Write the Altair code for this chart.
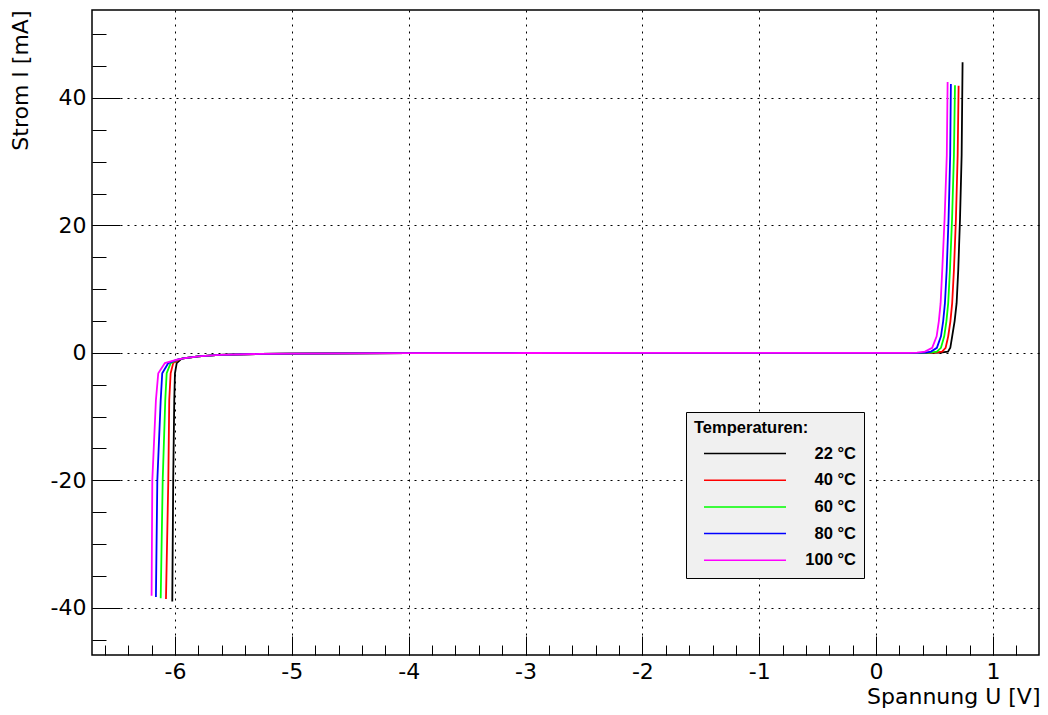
import altair as alt
import pandas as pd

temps = ["22 °C", "40 °C", "60 °C", "80 °C", "100 °C"]
colors = ["#000000", "#ff0000", "#00ff00", "#0000ff", "#ff00ff"]

# reverse (Zener) branch per temperature
rev_u_22 = [-6.023, -6.015, -6.006, -6.000, -5.985, -5.950]
rev_i_22 = [-39.0, -20.0, -7.4, -3.2, -1.6, -1.0]
rev_u_40 = [-6.077, -6.057, -6.049, -6.037, -6.015, -5.960]
rev_i_40 = [-38.6, -20.0, -7.4, -3.2, -1.6, -1.0]
rev_u_60 = [-6.122, -6.105, -6.083, -6.071, -6.037, -5.970]
rev_i_60 = [-38.5, -20.0, -7.4, -3.2, -1.6, -1.0]
rev_u_80 = [-6.163, -6.151, -6.122, -6.109, -6.057, -5.980]
rev_i_80 = [-38.3, -20.0, -7.4, -3.2, -1.6, -1.05]
rev_u_100 = [-6.200, -6.194, -6.163, -6.143, -6.086, -5.990]
rev_i_100 = [-38.1, -20.0, -7.4, -3.2, -1.6, -1.1]

# common blocking region
flat_u = [-5.93, -5.80, -5.62, -5.27, -5.00, -4.50, -4.00, -3.00, -2.00, -1.00, 0.00]
flat_i = [-0.85, -0.55, -0.32, -0.16, -0.10, -0.06, -0.04, -0.02, -0.01, 0.0, 0.0]

# forward branch per temperature
fwd_u_22 = [0.40, 0.55, 0.615, 0.635, 0.651, 0.672, 0.689, 0.703, 0.718, 0.732, 0.740]
fwd_i_22 = [0.0, 0.05, 0.2, 0.8, 2.6, 5.0, 7.8, 13.0, 21.0, 31.0, 45.6]
fwd_u_40 = [0.38, 0.50, 0.565, 0.595, 0.617, 0.636, 0.651, 0.666, 0.683, 0.698, 0.706]
fwd_i_40 = [0.0, 0.05, 0.2, 0.8, 2.6, 5.0, 7.8, 13.0, 21.0, 31.0, 41.9]
fwd_u_60 = [0.35, 0.46, 0.52, 0.555, 0.583, 0.602, 0.617, 0.632, 0.650, 0.666, 0.675]
fwd_i_60 = [0.0, 0.05, 0.2, 0.8, 2.6, 5.0, 7.8, 13.0, 21.0, 31.0, 42.0]
fwd_u_80 = [0.32, 0.42, 0.47, 0.52, 0.555, 0.574, 0.589, 0.604, 0.620, 0.634, 0.640]
fwd_i_80 = [0.0, 0.05, 0.2, 0.8, 2.6, 5.0, 7.8, 13.0, 21.0, 31.0, 42.2]
fwd_u_100 = [0.28, 0.35, 0.418, 0.48, 0.518, 0.537, 0.552, 0.566, 0.586, 0.605, 0.612]
fwd_i_100 = [0.0, 0.05, 0.2, 0.8, 2.6, 5.0, 7.8, 13.0, 21.0, 31.0, 42.5]

x_major = [-6, -5, -4, -3, -2, -1, 0, 1]
y_major = [-40, -20, 0, 20, 40]
x_minor = [round(-6.6 + 0.2 * k, 1) for k in range(41)]
x_minor = [v for v in x_minor if abs(v - round(v)) > 1e-9]
y_minor = [v for v in range(-45, 55, 5) if v % 20 != 0]

series = [
    (temps[0], rev_u_22, rev_i_22, fwd_u_22, fwd_i_22),
    (temps[1], rev_u_40, rev_i_40, fwd_u_40, fwd_i_40),
    (temps[2], rev_u_60, rev_i_60, fwd_u_60, fwd_i_60),
    (temps[3], rev_u_80, rev_i_80, fwd_u_80, fwd_i_80),
    (temps[4], rev_u_100, rev_i_100, fwd_u_100, fwd_i_100),
]
rows = []
for t, ru, ri, fu, fi in series:
    us = ru + flat_u + fu
    is_ = ri + flat_i + fi
    for k, (u, i) in enumerate(zip(us, is_)):
        rows.append({"T": t, "U": u, "I": i, "idx": k})
df = pd.DataFrame(rows)

W, H = 947, 645
AX_FONT = "DejaVu Sans"
LEG_FONT = "Liberation Sans"
xs = alt.Scale(domain=[-6.71, 1.394], nice=False, zero=False)
ys = alt.Scale(domain=[-47.4, 53.8], nice=False, zero=False)

base = alt.Chart(df)

lines = base.mark_line(strokeWidth=1.8).encode(
    x=alt.X("U:Q", scale=xs, axis=alt.Axis(
        values=x_major, grid=True, gridDash=[2, 5], gridColor="black", gridOpacity=1, gridWidth=1,
        ticks=False, domain=False, labelFont=AX_FONT, labelFontSize=22, labelColor="black",
        labelPadding=6, labelExpr="'' + datum.value",
        title="Spannung U [V]", titleFont=AX_FONT, titleFontSize=22, titleFontWeight="normal",
        titleColor="black", titleX=W + 1, titleY=48, titleAlign="right", titleBaseline="alphabetic")),
    y=alt.Y("I:Q", scale=ys, axis=alt.Axis(
        values=y_major, grid=True, gridDash=[2, 5], gridColor="black", gridOpacity=1, gridWidth=1,
        ticks=False, domain=False, labelFont=AX_FONT, labelFontSize=22, labelColor="black",
        labelPadding=6, labelExpr="'' + datum.value",
        title="Strom I [mA]", titleFont=AX_FONT, titleFontSize=22, titleFontWeight="normal",
        titleColor="black", titleX=-65, titleY=0, titleAngle=270, titleAlign="right",
        titleBaseline="alphabetic")),
    color=alt.Color("T:N", scale=alt.Scale(domain=temps, range=colors), legend=alt.Legend(
        orient="none", legendX=594, legendY=402, title="Temperaturen:",
        titleFont=LEG_FONT, titleFontSize=16.5, titleFontWeight="bold", titleColor="black",
        titlePadding=8,
        labelFont=LEG_FONT, labelFontSize=16.5, labelFontWeight="bold", labelColor="black",
        labelAlign="right", labelOffset=69,
        symbolType="stroke", symbolSize=6724, symbolStrokeWidth=1.5, symbolOffset=9,
        clipHeight=18, rowPadding=8.7, padding=8,
        fillColor="#f0f0f0", strokeColor="black")),
    order=alt.Order("idx:Q"),
    detail="T:N",
)

def tick_layer(vals_x, size_x, vals_y, size_y):
    return base.mark_line(opacity=0).encode(
        x=alt.X("U:Q", scale=xs, axis=alt.Axis(
            orient="top", offset=-H, values=vals_x, labels=False, grid=False, domain=False,
            tickSize=size_x, tickColor="black", tickWidth=1, title=None)),
        y=alt.Y("I:Q", scale=ys, axis=alt.Axis(
            orient="right", offset=-W, values=vals_y, labels=False, grid=False, domain=False,
            tickSize=size_y, tickColor="black", tickWidth=1, title=None)),
        detail="T:N",
    )

major_ticks = tick_layer(x_major, 19, y_major, 28)
minor_ticks = tick_layer(x_minor, 10, y_minor, 14)

chart = alt.layer(lines, major_ticks, minor_ticks).resolve_axis(
    x="independent", y="independent"
).properties(
    width=W, height=H,
    autosize=alt.AutoSizeParams(type="none"),
    padding={"left": 84, "top": 2, "right": 1, "bottom": 60},
    background="white",
).configure_view(stroke="black", strokeWidth=1.5)

chart.save("out.html", embed_options={"renderer": "svg", "actions": False})
